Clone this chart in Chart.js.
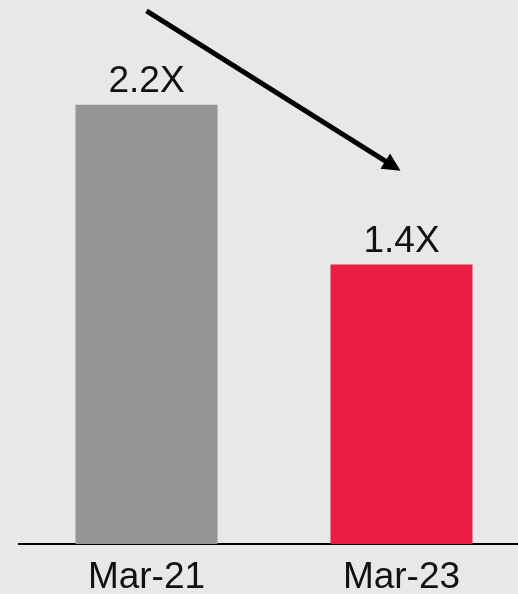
<!DOCTYPE html>
<html lang="en">
<head>
    <meta charset="UTF-8">
    <title>Multiple chart</title>
    <script src="https://cdn.jsdelivr.net/npm/chart.js"></script>
    <style>
        html, body {
            margin: 0;
            padding: 0;
            background-color: #e8e8e8;
            overflow: hidden;
        }

        .chart-container {
            width: 518px;
            height: 594px;
            overflow: hidden;
        }
    </style>
</head>
<body>

    <div class="chart-container">
        <canvas id="dataChart" width="529" height="594"></canvas>
    </div>

    <script>
        const periods = ["Mar-21", "Mar-23"];
        const multiples = [2.2, 1.4];
        const barColors = ["#959595", "#ec1e45"];

        // arrow runs from above the first bar down to the second, in data units
        const arrowFrom = [0, 2.67];
        const arrowTo = [1, 1.87];

        const labelFont = "37px 'Liberation Sans', Arial, sans-serif";

        const valueLabels = {
            id: 'valueLabels',
            afterDatasetsDraw(chart) {
                const ctx = chart.ctx;
                const meta = chart.getDatasetMeta(0);
                ctx.save();
                ctx.font = labelFont;
                ctx.fillStyle = '#111';
                ctx.textAlign = 'center';
                ctx.textBaseline = 'alphabetic';
                meta.data.forEach((bar, i) => {
                    ctx.fillText(multiples[i].toFixed(1) + 'X', bar.x, bar.y - 13);
                });
                ctx.restore();
            }
        };

        const trendArrow = {
            id: 'trendArrow',
            afterDraw(chart) {
                const ctx = chart.ctx;
                const xs = chart.scales.x, ys = chart.scales.y;
                const x1 = xs.getPixelForValue(arrowFrom[0]), y1 = ys.getPixelForValue(arrowFrom[1]);
                const x2 = xs.getPixelForValue(arrowTo[0]) - 1, y2 = ys.getPixelForValue(arrowTo[1]);
                const ang = Math.atan2(y2 - y1, x2 - x1);
                const headLen = 18, headHalf = 9;
                const bx = x2 - headLen * Math.cos(ang), by = y2 - headLen * Math.sin(ang);

                ctx.save();
                ctx.strokeStyle = '#000';
                ctx.fillStyle = '#000';
                ctx.lineWidth = 5;
                ctx.lineCap = 'butt';
                ctx.beginPath();
                ctx.moveTo(x1, y1);
                ctx.lineTo(bx + 2 * Math.cos(ang), by + 2 * Math.sin(ang));
                ctx.stroke();

                ctx.beginPath();
                ctx.moveTo(x2, y2);
                ctx.lineTo(bx + headHalf * Math.sin(ang), by - headHalf * Math.cos(ang));
                ctx.lineTo(bx - headHalf * Math.sin(ang), by + headHalf * Math.cos(ang));
                ctx.closePath();
                ctx.fill();
                ctx.restore();
            }
        };

        const ctx = document.getElementById('dataChart').getContext('2d');

        new Chart(ctx, {
            type: 'bar',
            data: {
                labels: periods,
                datasets: [{
                    data: multiples,
                    backgroundColor: barColors,
                    borderWidth: 0,
                    barPercentage: 1,
                    categoryPercentage: 0.557
                }]
            },
            options: {
                responsive: false,
                animation: false,
                devicePixelRatio: 1,
                layout: { padding: { left: 19, right: 0, top: 5, bottom: 0 } },
                plugins: {
                    legend: { display: false },
                    tooltip: { enabled: false }
                },
                scales: {
                    x: {
                        grid: { display: false, drawTicks: false },
                        border: { display: true, color: '#000', width: 2 },
                        ticks: {
                            color: '#111',
                            padding: 12,
                            font: { family: "'Liberation Sans', Arial, sans-serif", size: 37 }
                        },
                        afterFit(scale) { scale.height = 50; }
                    },
                    y: {
                        display: false,
                        min: 0,
                        max: 2.7
                    }
                }
            },
            plugins: [valueLabels, trendArrow]
        });
    </script>

</body>
</html>
